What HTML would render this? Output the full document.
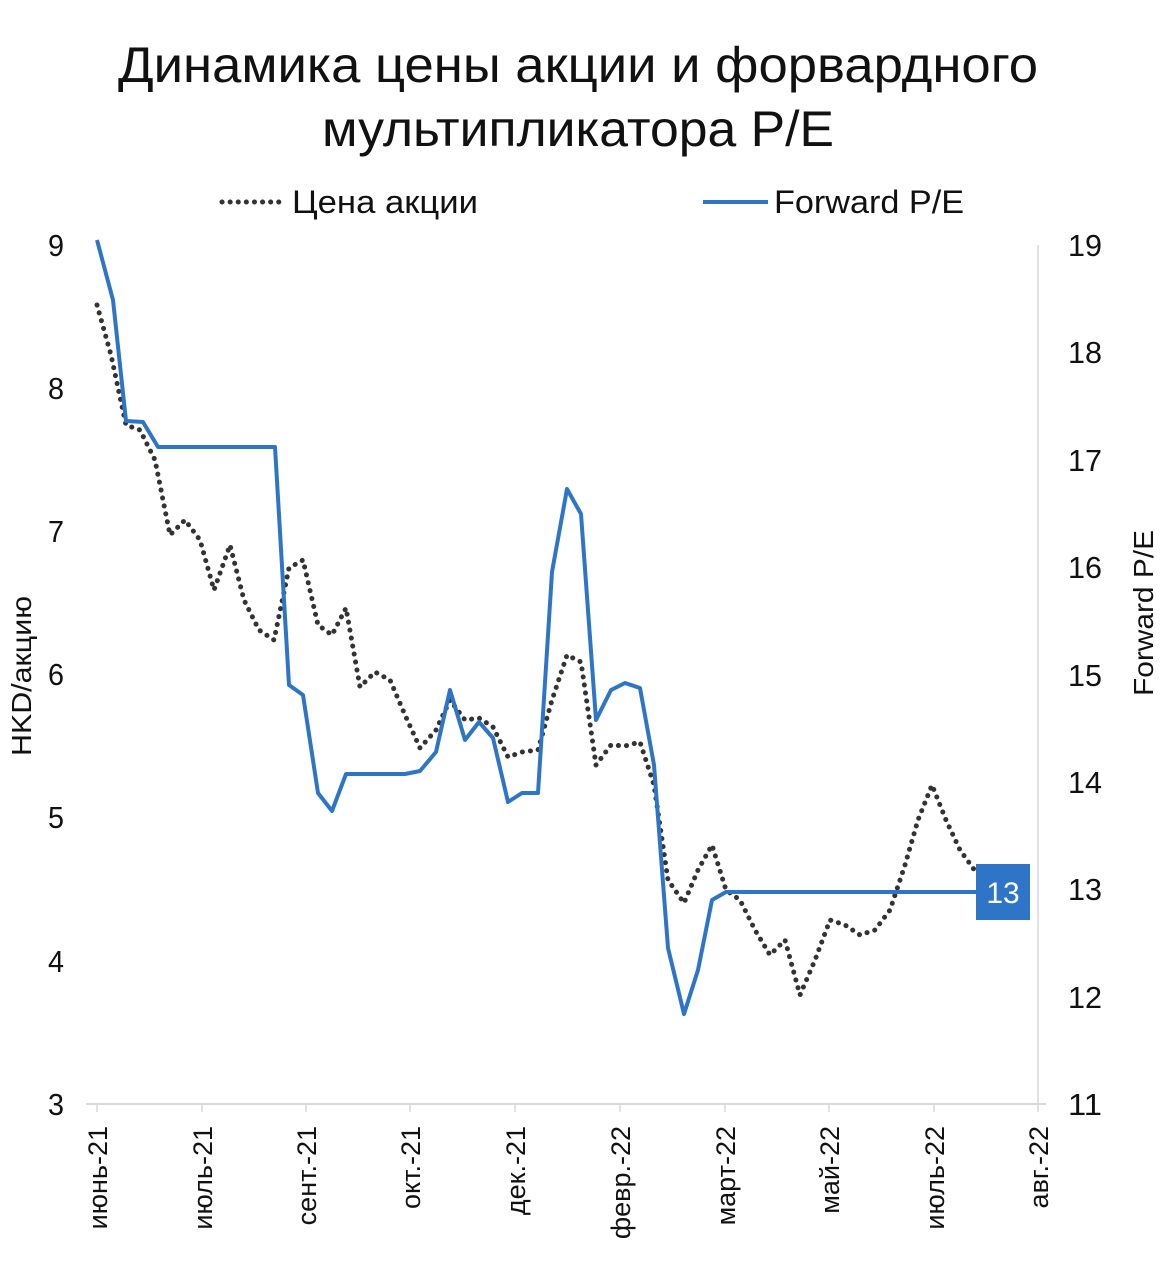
<!DOCTYPE html>
<html><head><meta charset="utf-8"><style>
body{margin:0;background:#fff;}
svg{display:block;font-family:"Liberation Sans","DejaVu Sans",sans-serif;}
</style></head><body>
<svg width="1166" height="1280" viewBox="0 0 1166 1280">
<text x="578" y="82" font-size="50" text-anchor="middle" fill="#111" textLength="920" lengthAdjust="spacingAndGlyphs">Динамика цены акции и форвардного</text>
<text x="578" y="146" font-size="50" text-anchor="middle" fill="#111" textLength="512" lengthAdjust="spacingAndGlyphs">мультипликатора P/E</text>
<line x1="222" y1="202" x2="280" y2="202" stroke="#333" stroke-width="5" stroke-dasharray="0.1,8" stroke-linecap="round"/>
<text x="292" y="213" font-size="32" fill="#111" textLength="186" lengthAdjust="spacingAndGlyphs">Цена акции</text>
<line x1="703" y1="202" x2="768" y2="202" stroke="#2e75c8" stroke-width="4"/>
<text x="774" y="213" font-size="32" fill="#111" textLength="190" lengthAdjust="spacingAndGlyphs">Forward P/E</text>
<line x1="86" y1="1104" x2="1046" y2="1104" stroke="#d9d9d9" stroke-width="2"/>
<g stroke="#d9d9d9" stroke-width="1.5">
<line x1="97" y1="1104" x2="97" y2="1112"/><line x1="202" y1="1104" x2="202" y2="1112"/><line x1="306" y1="1104" x2="306" y2="1112"/><line x1="410" y1="1104" x2="410" y2="1112"/><line x1="515" y1="1104" x2="515" y2="1112"/><line x1="620" y1="1104" x2="620" y2="1112"/><line x1="725" y1="1104" x2="725" y2="1112"/><line x1="829" y1="1104" x2="829" y2="1112"/><line x1="934" y1="1104" x2="934" y2="1112"/><line x1="1038" y1="1104" x2="1038" y2="1112"/>
<line x1="1038" y1="245" x2="1038" y2="1104"/>
</g>
<g font-size="31" fill="#111" text-anchor="end">
<text x="64" y="256" textLength="16" lengthAdjust="spacingAndGlyphs">9</text><text x="64" y="399" textLength="16" lengthAdjust="spacingAndGlyphs">8</text><text x="64" y="542" textLength="16" lengthAdjust="spacingAndGlyphs">7</text><text x="64" y="685" textLength="16" lengthAdjust="spacingAndGlyphs">6</text><text x="64" y="828" textLength="16" lengthAdjust="spacingAndGlyphs">5</text><text x="64" y="972" textLength="16" lengthAdjust="spacingAndGlyphs">4</text><text x="64" y="1115" textLength="16" lengthAdjust="spacingAndGlyphs">3</text>
</g>
<g font-size="31" fill="#111">
<text x="1068" y="256" textLength="34" lengthAdjust="spacingAndGlyphs">19</text><text x="1068" y="363" textLength="34" lengthAdjust="spacingAndGlyphs">18</text><text x="1068" y="471" textLength="34" lengthAdjust="spacingAndGlyphs">17</text><text x="1068" y="578" textLength="34" lengthAdjust="spacingAndGlyphs">16</text><text x="1068" y="686" textLength="34" lengthAdjust="spacingAndGlyphs">15</text><text x="1068" y="793" textLength="34" lengthAdjust="spacingAndGlyphs">14</text><text x="1068" y="900" textLength="34" lengthAdjust="spacingAndGlyphs">13</text><text x="1068" y="1008" textLength="34" lengthAdjust="spacingAndGlyphs">12</text><text x="1068" y="1115" textLength="34" lengthAdjust="spacingAndGlyphs">11</text>
</g>
<text transform="translate(31,676) rotate(-90)" font-size="28" text-anchor="middle" fill="#111" textLength="160" lengthAdjust="spacingAndGlyphs">HKD/акцию</text>
<text transform="translate(1153,613) rotate(-90)" font-size="28" text-anchor="middle" fill="#111" textLength="166" lengthAdjust="spacingAndGlyphs">Forward P/E</text>
<g font-size="27" fill="#111" text-anchor="end">
<text transform="translate(107,1126) rotate(-90)">июнь-21</text>
<text transform="translate(212,1126) rotate(-90)">июль-21</text>
<text transform="translate(316,1126) rotate(-90)">сент.-21</text>
<text transform="translate(420,1126) rotate(-90)">окт.-21</text>
<text transform="translate(525,1126) rotate(-90)">дек.-21</text>
<text transform="translate(630,1126) rotate(-90)">февр.-22</text>
<text transform="translate(735,1126) rotate(-90)">март-22</text>
<text transform="translate(839,1126) rotate(-90)">май-22</text>
<text transform="translate(944,1126) rotate(-90)">июль-22</text>
<text transform="translate(1048,1126) rotate(-90)">авг.-22</text>
</g>
<polyline fill="none" stroke="#333" stroke-width="5" stroke-dasharray="0.1,8" stroke-linecap="round" points="97,305 111,355 126,425 140,430 155,460 170,535 185,520 200,540 214,590 230,545 244,600 259,630 274,640 289,568 303,560 318,625 332,635 346,608 360,687 375,672 390,680 405,715 420,748 436,730 450,700 465,720 479,718 493,727 508,757 522,752 538,750 552,700 567,655 581,662 596,765 611,745 625,746 640,742 654,785 668,880 684,903 698,870 712,845 726,890 740,900 755,930 770,955 785,940 800,995 815,960 830,920 845,925 860,935 875,930 890,910 905,865 918,820 932,785 946,820 960,850 978,875"/>
<polyline fill="none" stroke="#2e75c8" stroke-width="4" stroke-linejoin="round" points="97,240 113,300 126,421 143,422 158,447 275,447 289,685 303,695 318,793 332,811 346,774 405,774 420,771 436,752 450,690 465,740 479,722 493,738 508,802 522,793 538,793 552,572 567,489 581,514 596,720 611,690 625,683 640,688 654,765 668,948 684,1014 698,970 712,900 726,892 978,892"/>
<rect x="976" y="864" width="54" height="56" fill="#2e75c8"/>
<text x="1003" y="903" font-size="30" fill="#fff" text-anchor="middle">13</text>
</svg>
</body></html>
